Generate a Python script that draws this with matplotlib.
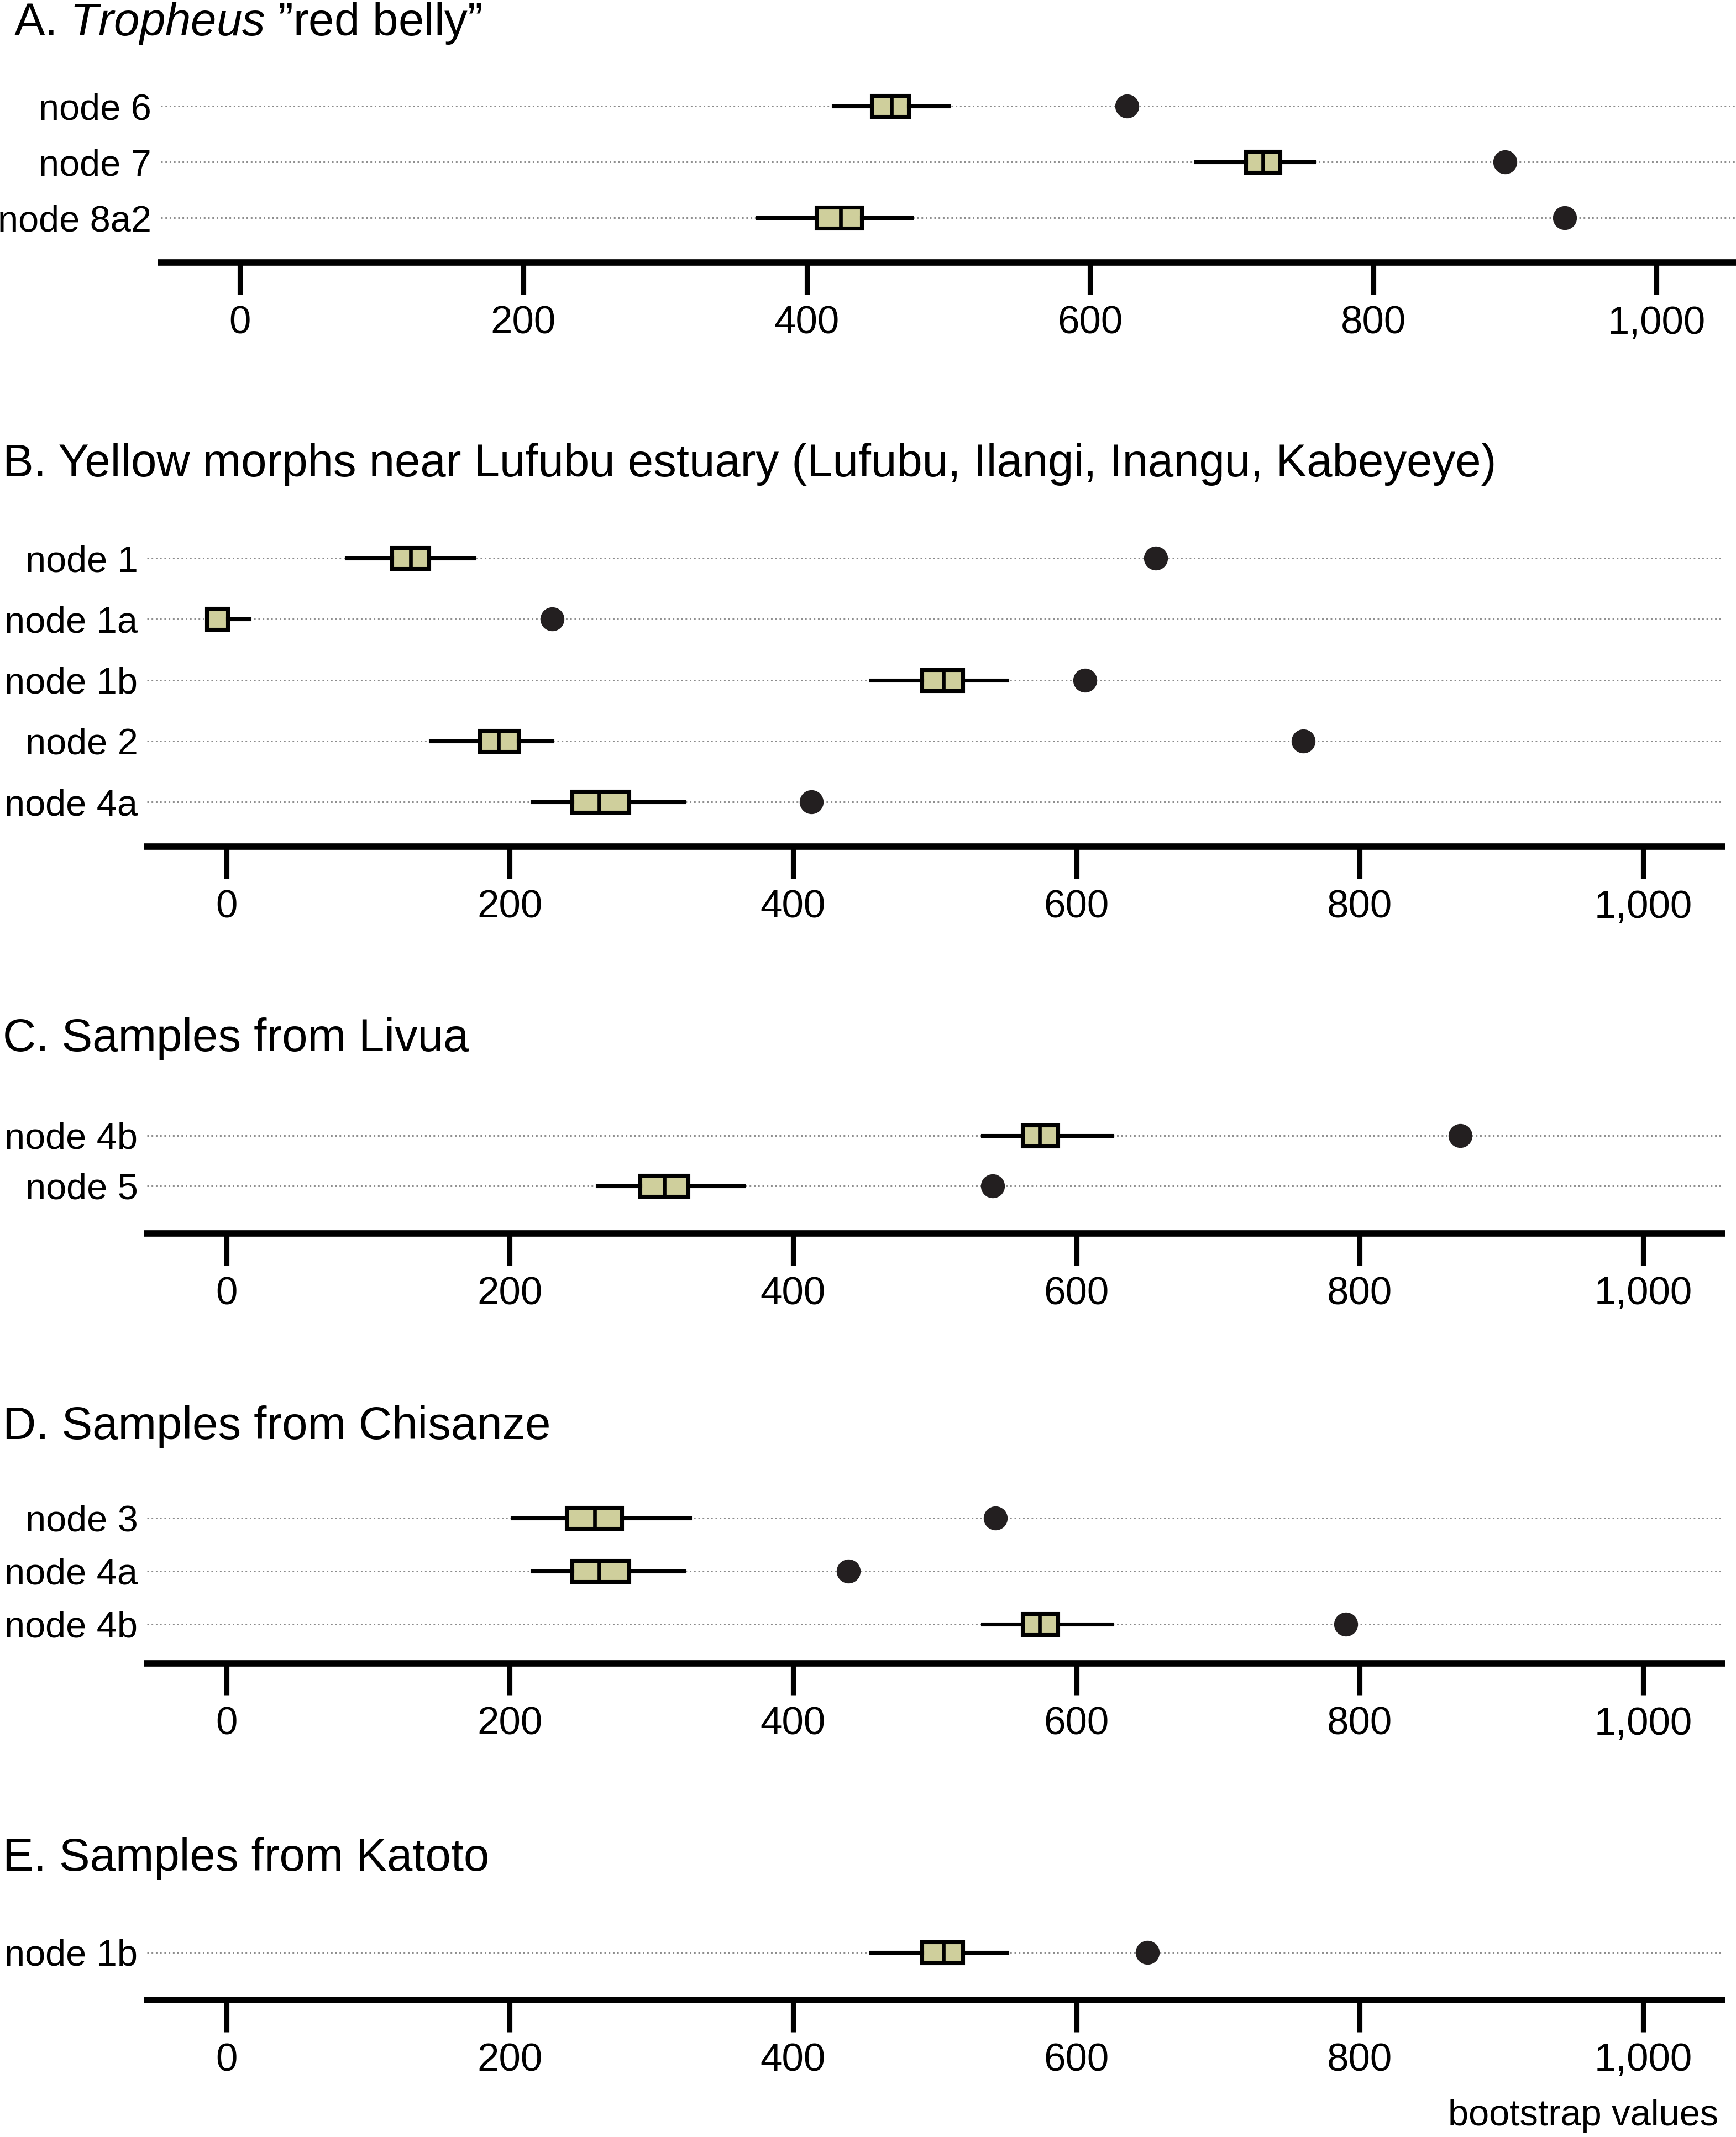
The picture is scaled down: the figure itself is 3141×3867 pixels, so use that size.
import matplotlib
matplotlib.use("Agg")
import matplotlib.pyplot as plt

plt.rcParams['font.family'] = ['Liberation Sans', 'DejaVu Sans']
plt.rcParams['mathtext.fontset'] = 'custom'
plt.rcParams['mathtext.rm'] = 'Liberation Sans'
plt.rcParams['mathtext.it'] = 'Liberation Sans:italic'

# ---- data ----
a_nodes = ["node 6", "node 7", "node 8a2"]
a_lo = [419, 675, 365]
a_q1 = [446, 710, 407]
a_med = [460, 722, 424]
a_q3 = [472, 734, 439]
a_hi = [500, 758, 474]
a_dot = [626, 893, 935]

b_nodes = ["node 1", "node 1a", "node 1b", "node 2", "node 4a"]
b_lo = [85, -14, 455, 144, 216]
b_q1 = [117, -14, 491, 179, 244]
b_med = [130, -14, 506, 192, 263]
b_q3 = [143, 1, 520, 206, 284]
b_hi = [175, 16, 551, 230, 323]
b_dot = [656, 230, 606, 760, 413]

c_nodes = ["node 4b", "node 5"]
c_lo = [534, 262]
c_q1 = [562, 292]
c_med = [574, 309]
c_q3 = [587, 326]
c_hi = [625, 365]
c_dot = [871, 541]

d_nodes = ["node 3", "node 4a", "node 4b"]
d_lo = [202, 216, 534]
d_q1 = [240, 244, 562]
d_med = [260, 263, 574]
d_q3 = [279, 284, 587]
d_hi = [327, 323, 625]
d_dot = [543, 439, 790]

e_nodes = ["node 1b"]
e_lo = [455]
e_q1 = [491]
e_med = [506]
e_q3 = [520]
e_hi = [551]
e_dot = [650]

titles = [r'A. $\mathit{Tropheus}$ ”red belly”',
          "B. Yellow morphs near Lufubu estuary (Lufubu, Ilangi, Inangu, Kabeyeye)",
          "C. Samples from Livua",
          "D. Samples from Chisanze",
          "E. Samples from Katoto"]
xticks = [0, 200, 400, 600, 800, 1000]
xticklabels = ["0", "200", "400", "600", "800", "1,000"]

panels = [
    (a_nodes, a_lo, a_q1, a_med, a_q3, a_hi, a_dot),
    (b_nodes, b_lo, b_q1, b_med, b_q3, b_hi, b_dot),
    (c_nodes, c_lo, c_q1, c_med, c_q3, c_hi, c_dot),
    (d_nodes, d_lo, d_q1, d_med, d_q3, d_hi, d_dot),
    (e_nodes, e_lo, e_q1, e_med, e_q3, e_hi, e_dot),
]

# layout in reference pixels (scaled down picture 1275 x 1570)
W, H = 1275.0, 1569.7
# left, right, first row y, row spacing, axis line y, title x, title baseline y
layout = [
    (118, 1275, 78, 41.0, 193, 10, 26),
    (108, 1265, 410, 44.75, 622, 2, 350),
    (108, 1265, 834, 37.0, 906, 2, 772),
    (108, 1265, 1115, 39.0, 1222, 2, 1057),
    (108, 1265, 1434, 40.0, 1469, 2, 1374),
]

fill = '#CFCF9C'
ink = '#231F20'

fig = plt.figure(figsize=(3141 / 300, 3867 / 300), dpi=300)

for (nodes, lo, q1, med, q3, hi, dot), (l, r, y0, sp, yax, tx, ty), title in zip(panels, layout, titles):
    n = len(nodes)
    top = y0 - sp / 2
    ax = fig.add_axes([l / W, 1 - yax / H, (r - l) / W, (yax - top) / H])
    stats = []
    for i in range(n):
        stats.append(dict(whislo=lo[i], q1=q1[i], med=med[i], q3=q3[i], whishi=hi[i], fliers=[]))
    pos = list(range(n))
    ax.bxp(stats, positions=pos, orientation='horizontal', widths=15.4 / sp,
           showcaps=False, showfliers=False, patch_artist=True,
           boxprops=dict(facecolor=fill, edgecolor='black', linewidth=1.7),
           whiskerprops=dict(color='black', linewidth=1.7, solid_capstyle='projecting'),
           medianprops=dict(color='black', linewidth=1.6))
    ax.plot(dot, pos, 'o', color=ink, markersize=9.4, zorder=5)

    ax.set_xlim(-56, 1056)
    ax.set_ylim(n - 1 + (yax - (y0 + (n - 1) * sp)) / sp, -0.5)
    ax.set_yticks(pos)
    ax.set_yticklabels(nodes, fontsize=16)
    ax.set_xticks(xticks)
    ax.set_xticklabels(xticklabels, fontsize=17)
    ax.grid(axis='y', linestyle=':', color='#8a8a8a', linewidth=0.7)
    ax.set_axisbelow(True)
    for s in ['top', 'left', 'right']:
        ax.spines[s].set_visible(False)
    ax.spines['bottom'].set_linewidth(2.8)
    ax.tick_params(axis='y', length=0, pad=4)
    ax.tick_params(axis='x', direction='out', length=14, width=2.2, pad=4.6)
    ax.patch.set_visible(False)

    fig.text(tx / W, 1 - ty / H, title, fontsize=20, ha='left', va='baseline')

fig.text(1262 / W, 1 - 1561 / H, "bootstrap values", fontsize=16, ha='right', va='baseline')

fig.savefig("out.png", dpi=300)
